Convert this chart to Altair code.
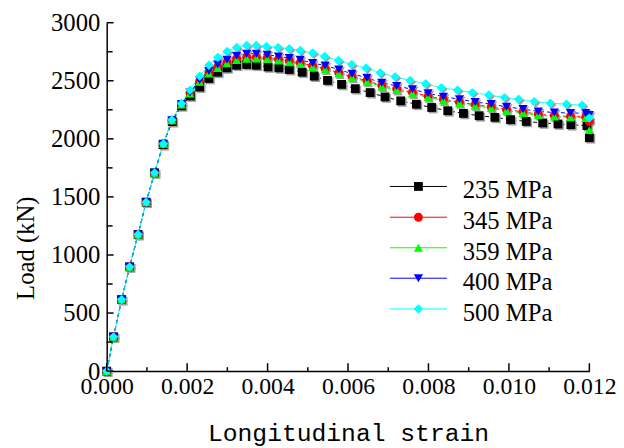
import altair as alt
import pandas as pd

# ---------------- data ----------------
series_names = ["235 MPa", "345 MPa", "359 MPa", "400 MPa", "500 MPa"]
series_colors = ["#000000", "#ff0000", "#00ff00", "#0000ff", "#00ffff"]
series_shapes = ["square", "circle", "triangle-up", "triangle-down", "diamond"]
series_sizes = [80, 90, 100, 100, 120]
series_dash = [[4, 3], [4, 3], [4, 3], [4, 3], [1, 0]]

strain_235 = [0, 0.00017, 0.00037, 0.00057, 0.00078, 0.00098, 0.00119, 0.00140, 0.00163, 0.00186,
              0.00208, 0.00231, 0.00254, 0.00276, 0.00299, 0.00323, 0.00348, 0.00372, 0.00401, 0.00428,
              0.00454, 0.00486, 0.00516, 0.00549, 0.00584, 0.00618, 0.00655, 0.00692, 0.00731, 0.00770,
              0.00808, 0.00848, 0.00887, 0.00926, 0.00965, 0.01004, 0.01043, 0.01084, 0.01122, 0.01154,
              0.01194, 0.01200]
load_235 = [0, 295, 616, 898, 1176, 1455, 1707, 1950, 2148, 2284,
            2369, 2446, 2520, 2574, 2611, 2634, 2640, 2634, 2619, 2611,
            2597, 2574, 2540, 2503, 2469, 2432, 2398, 2361, 2327, 2298,
            2270, 2242, 2219, 2199, 2185, 2165, 2150, 2137, 2128, 2122,
            2114, 2010]

strain_400 = [0, 0.00017, 0.00037, 0.00057, 0.00078, 0.00098, 0.00119, 0.00141, 0.00162, 0.00186,
              0.00207, 0.00231, 0.00254, 0.00276, 0.00299, 0.00323, 0.00348, 0.00372, 0.00399, 0.00427,
              0.00454, 0.00481, 0.00512, 0.00543, 0.00577, 0.00610, 0.00647, 0.00684, 0.00721, 0.00760,
              0.00799, 0.00837, 0.00877, 0.00916, 0.00956, 0.00994, 0.01035, 0.01073, 0.01113, 0.01153,
              0.01191, 0.01200]
load_345 = [0, 295, 616, 898, 1176, 1455, 1707, 1958, 2160, 2298,
            2395, 2495, 2570, 2620, 2660, 2690, 2703, 2703, 2697, 2685,
            2670, 2655, 2628, 2605, 2570, 2535, 2500, 2460, 2430, 2400,
            2368, 2340, 2316, 2294, 2274, 2252, 2232, 2212, 2200, 2192,
            2188, 2150]
load_359 = [0, 295, 616, 898, 1176, 1455, 1707, 1958, 2160, 2296,
            2390, 2490, 2562, 2610, 2650, 2678, 2690, 2692, 2686, 2674,
            2660, 2645, 2618, 2596, 2562, 2526, 2490, 2450, 2420, 2390,
            2357, 2330, 2306, 2284, 2264, 2242, 2222, 2204, 2192, 2185,
            2180, 2075]
load_400 = [0, 295, 616, 898, 1176, 1455, 1707, 1958, 2160, 2300,
            2400, 2505, 2585, 2640, 2682, 2716, 2733, 2733, 2725, 2710,
            2696, 2680, 2653, 2631, 2597, 2560, 2525, 2483, 2455, 2426,
            2392, 2363, 2341, 2318, 2299, 2276, 2256, 2236, 2227, 2222,
            2222, 2205]

strain_500 = [0, 0.00017, 0.00037, 0.00057, 0.00078, 0.00098, 0.00119, 0.00141, 0.00162, 0.00186,
              0.00207, 0.00231, 0.00254, 0.00276, 0.00299, 0.00323, 0.00348, 0.00372, 0.00397, 0.00426,
              0.00454, 0.00481, 0.00512, 0.00542, 0.00576, 0.00609, 0.00645, 0.00680, 0.00717, 0.00754,
              0.00793, 0.00832, 0.00872, 0.00909, 0.00950, 0.00989, 0.01024, 0.01063, 0.01103, 0.01143,
              0.01182, 0.01200]
load_500 = [0, 295, 616, 898, 1176, 1455, 1707, 1958, 2162, 2304,
            2420, 2540, 2634, 2702, 2753, 2787, 2804, 2804, 2796, 2787,
            2776, 2761, 2739, 2710, 2674, 2640, 2611, 2568, 2534, 2503,
            2474, 2440, 2420, 2398, 2378, 2355, 2341, 2321, 2307, 2299,
            2290, 2180]

x_major = [0.000, 0.002, 0.004, 0.006, 0.008, 0.010, 0.012]
x_minor = [0.001, 0.003, 0.005, 0.007, 0.009, 0.011]
y_major = [0, 500, 1000, 1500, 2000, 2500, 3000]
y_minor = [250, 750, 1250, 1750, 2250, 2750]

# legend placement (in data units)
legend_line_start = 0.00704
legend_line_end = 0.00846
legend_marker_x = 0.00775
legend_text_x = 0.00885
legend_load = [1590, 1325, 1062, 800, 535]

# ---------------- build tables ----------------
curves = [
    ("235 MPa", strain_235, load_235),
    ("345 MPa", strain_400, load_345),
    ("359 MPa", strain_400, load_359),
    ("400 MPa", strain_400, load_400),
    ("500 MPa", strain_500, load_500),
]
rows = []
for name, xs, ys in curves:
    for xv, yv in zip(xs, ys):
        rows.append({"series": name, "strain": xv, "load": yv})
df = pd.DataFrame(rows)

legend_df = pd.DataFrame({
    "series": series_names,
    "strain": [legend_line_start] * 5,
    "strain2": [legend_line_end] * 5,
    "mx": [legend_marker_x] * 5,
    "tx": [legend_text_x] * 5,
    "load": legend_load,
})

W, H = 489, 353
SERIF = "'Liberation Serif', 'Times New Roman', Times, serif"
MONO = "'Liberation Mono', 'Courier New', Courier, monospace"

xscale = alt.Scale(domain=[0, 0.012], nice=False, zero=False)
yscale = alt.Scale(domain=[0, 3000], nice=False)

color_scale = alt.Scale(domain=series_names, range=series_colors)
shape_scale = alt.Scale(domain=series_names, range=series_shapes)
size_scale = alt.Scale(domain=series_names, range=series_sizes)
dash_scale = alt.Scale(domain=series_names, range=series_dash)

x_enc = alt.X("strain:Q", scale=xscale, axis=alt.Axis(
    values=x_major, format=".3f", title="Longitudinal strain",
    titleFont=MONO, titleFontSize=25, titleFontWeight="normal",
    titleColor="black", titleY=62, titleBaseline="middle",
    labelFont=SERIF, labelFontSize=24, labelColor="black", labelPadding=4,
    labelFlush=False, labelOverlap=False, labelBound=False,
    ticks=False, domainColor="black", domainWidth=1.5, grid=False))
y_enc = alt.Y("load:Q", scale=yscale, axis=alt.Axis(
    values=y_major, format="d", title="Load (kN)",
    titleFont=SERIF, titleFontSize=25, titleFontWeight="normal", titleColor="black",
    titleX=-82, titleY=228, titleAngle=270, titleAlign="center", titleBaseline="middle",
    labelFont=SERIF, labelFontSize=25, labelColor="black", labelPadding=7,
    labelFlush=False, labelOverlap=False, labelBound=False,
    ticks=False, domainColor="black", domainWidth=1.5, grid=False))

base = alt.Chart(df)

lines = base.mark_line(strokeWidth=1).encode(
    x=x_enc, y=y_enc,
    color=alt.Color("series:N", scale=color_scale, legend=None),
    strokeDash=alt.StrokeDash("series:N", scale=dash_scale, legend=None),
    order="strain:Q",
)

shadows = base.mark_point(filled=True, color="#a0a0a0", opacity=1, xOffset=1.5, yOffset=1.5).encode(
    x="strain:Q", y="load:Q",
    shape=alt.Shape("series:N", scale=shape_scale, legend=None),
    size=alt.Size("series:N", scale=size_scale, legend=None),
)

points = base.mark_point(filled=True, opacity=1).encode(
    x="strain:Q", y="load:Q",
    color=alt.Color("series:N", scale=color_scale, legend=None),
    shape=alt.Shape("series:N", scale=shape_scale, legend=None),
    size=alt.Size("series:N", scale=size_scale, legend=None),
)

xt_major = alt.Chart(pd.DataFrame({"strain": x_major})).mark_rule(color="black", strokeWidth=1.5).encode(
    x="strain:Q", y=alt.value(H), y2=alt.value(H - 8))
xt_minor = alt.Chart(pd.DataFrame({"strain": x_minor})).mark_rule(color="black", strokeWidth=1.5).encode(
    x="strain:Q", y=alt.value(H), y2=alt.value(H - 4))
yt_major = alt.Chart(pd.DataFrame({"load": y_major})).mark_rule(color="black", strokeWidth=1.5).encode(
    y="load:Q", x=alt.value(0), x2=alt.value(7))
yt_minor = alt.Chart(pd.DataFrame({"load": y_minor})).mark_rule(color="black", strokeWidth=1.5).encode(
    y="load:Q", x=alt.value(0), x2=alt.value(6))

leg = alt.Chart(legend_df)
leg_lines = leg.mark_rule(strokeWidth=1).encode(
    x="strain:Q", x2="strain2:Q", y="load:Q",
    color=alt.Color("series:N", scale=color_scale, legend=None))
leg_points = leg.mark_point(filled=True, opacity=1).encode(
    x="mx:Q", y="load:Q",
    color=alt.Color("series:N", scale=color_scale, legend=None),
    shape=alt.Shape("series:N", scale=shape_scale, legend=None),
    size=alt.Size("series:N", scale=size_scale, legend=None))
leg_text = leg.mark_text(align="left", baseline="alphabetic", dy=12, font=SERIF, fontSize=25,
                         color="black").encode(x="tx:Q", y="load:Q", text="series:N")

chart = alt.layer(
    lines, shadows, points, xt_major, xt_minor, yt_major, yt_minor,
    leg_lines, leg_points, leg_text
).properties(
    width=W, height=H,
    autosize=alt.AutoSizeParams(type="none"),
    padding={"left": 100, "top": 12, "right": 27, "bottom": 75},
    background="white",
).configure_view(stroke=None)

chart.save("out.html", embed_options={"renderer": "svg", "actions": False})
